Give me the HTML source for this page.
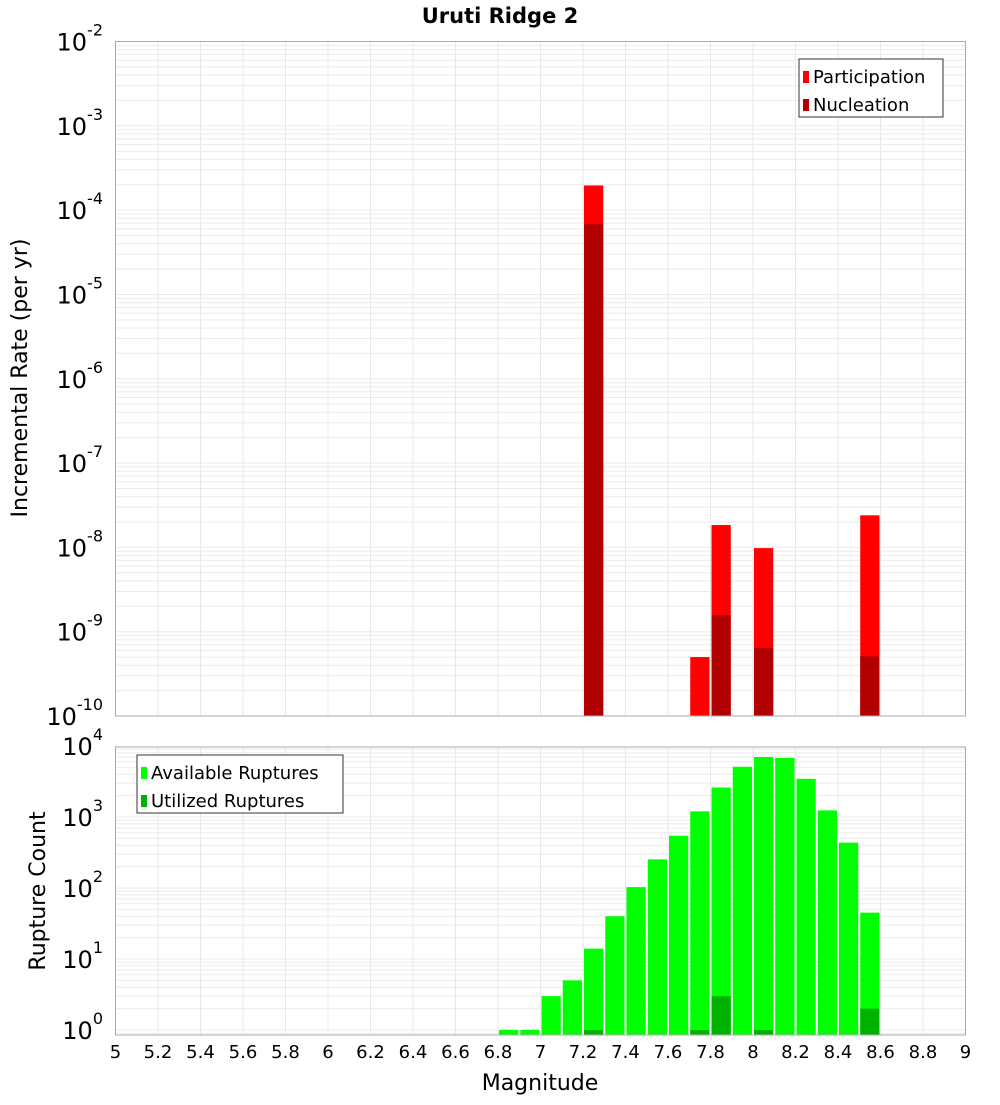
<!DOCTYPE html>
<html><head><meta charset="utf-8"><style>
body{margin:0;background:#fff;width:1000px;height:1100px;overflow:hidden}
svg{font-family:"DejaVu Sans","Liberation Sans",sans-serif}
</style></head><body>
<svg id="c" width="1000" height="1100" xmlns="http://www.w3.org/2000/svg">
<text x="500" y="23" text-anchor="middle" font-size="21" font-weight="bold">Uruti Ridge 2</text>
<text transform="translate(27,378) rotate(-90)" text-anchor="middle" font-size="22">Incremental Rate (per yr)</text>
<text transform="translate(45,891) rotate(-90)" text-anchor="middle" font-size="22">Rupture Count</text>
<text x="540" y="1090" text-anchor="middle" font-size="22">Magnitude</text>
<g id="g"></g>
</svg>
<script>
const bins=[6.85,6.95,7.05,7.15,7.25,7.35,7.45,7.55,7.65,7.75,7.85,7.95,8.05,8.15,8.25,8.35,8.45,8.55];
const available=[1,1,3,5,14,40,103,253,545,1200,2600,5100,7000,6800,3450,1240,435,45];
const utilized=[0,0,0,0,1,0,0,0,0,1,3,0,1,0,0,0,0,2];
const rateMags=[7.25,7.75,7.85,8.05,8.55];
const participation=[1.96e-4,5.0e-10,1.84e-8,9.8e-9,2.4e-8];
const nucleation=[6.8e-5,0,1.58e-9,6.4e-10,5.1e-10];
const xTicks=[5,5.2,5.4,5.6,5.8,6,6.2,6.4,6.6,6.8,7,7.2,7.4,7.6,7.8,8,8.2,8.4,8.6,8.8,9];
const topExps=[-2,-3,-4,-5,-6,-7,-8,-9,-10];
const botExps=[0,1,2,3,4];

const NS="http://www.w3.org/2000/svg",G=document.getElementById('g');
function el(t,a,p){const e=document.createElementNS(NS,t);for(const k in a)e.setAttribute(k,a[k]);(p||G).appendChild(e);return e;}
const X0=115.5,X1=965.5;
const xs=m=>X0+(m-5)*(X1-X0)/4;
const T0=41.5,T1=716;const ty=v=>T0+(-2-Math.log10(v))*(T1-T0)/8;
const B0=747,B1=1035;const by=v=>1030-Math.log10(v)*71;

function grid(top,bot,yf,emin,emax){
  for(let e=emin;e<emax;e++)for(let k=1;k<10;k++){const y=yf(k*Math.pow(10,e));if(y<top||y>bot)continue;
    const l=el('line',{x1:X0,x2:X1,y1:y,y2:y,stroke:'#ebebeb','stroke-width':1});
    }
  xTicks.forEach(t=>{const l=el('line',{x1:xs(t),x2:xs(t),y1:top,y2:bot,stroke:'#e8e8e8'});
    });
}
grid(T0,T1,ty,-10,-2);
grid(B0,B1,by,-1,4);

function bar(m,v,yf,bottom,col,name){
  if(!v)return;const x=xs(m-0.05)+1,w=(X1-X0)/40-2;const y=yf(v);
  const r=el('rect',{x:x,y:y,width:w,height:bottom-y,fill:col});
  
}
rateMags.forEach((m,i)=>{bar(m,participation[i],ty,T1,'#ff0000','participation-bar');});
rateMags.forEach((m,i)=>{bar(m,nucleation[i],ty,T1,'#b20000','nucleation-bar');});
bins.forEach((m,i)=>{bar(m,available[i],by,B1,'#00ff00','available-bar');});
bins.forEach((m,i)=>{bar(m,utilized[i],by,B1,'#00b200','utilized-bar');});

[[T0,T1],[B0,B1]].forEach(p=>{const r=el('rect',{x:X0,y:p[0],width:X1-X0,height:p[1]-p[0],fill:'none',stroke:'#aaa'});
  });

function ylab(e,y,name){const t=el('text',{x:103,y:y+9,'text-anchor':'end','font-size':24});
  
  t.textContent='10';const s=el('tspan',{dy:-15,'font-size':16},t);s.textContent=String(e);}
topExps.forEach(e=>ylab(e,ty(Math.pow(10,e)),'top-y-tick-label'));
botExps.forEach(e=>ylab(e,by(Math.pow(10,e)),'bottom-y-tick-label'));
xTicks.forEach(t=>{const tx=el('text',{x:xs(t),y:1058,'text-anchor':'middle','font-size':18});
  tx.textContent=String(t);});

function legend(x,y,w,items,name){const g=el('g',{});
  el('rect',{x:x,y:y,width:w,height:58,fill:'#fff',stroke:'#333'},g);
  items.forEach((it,i)=>{el('rect',{x:x+4,y:y+12+i*28,width:6,height:12,fill:it[1]},g);
    const t=el('text',{x:x+14,y:y+24+i*28,'font-size':18},g);t.textContent=it[0];});}
legend(799,59,144,[['Participation','#ff0000'],['Nucleation','#b20000']],'top-legend');
legend(137,755,206,[['Available Ruptures','#00ff00'],['Utilized Ruptures','#00b200']],'bottom-legend');
</script>
</body></html>
